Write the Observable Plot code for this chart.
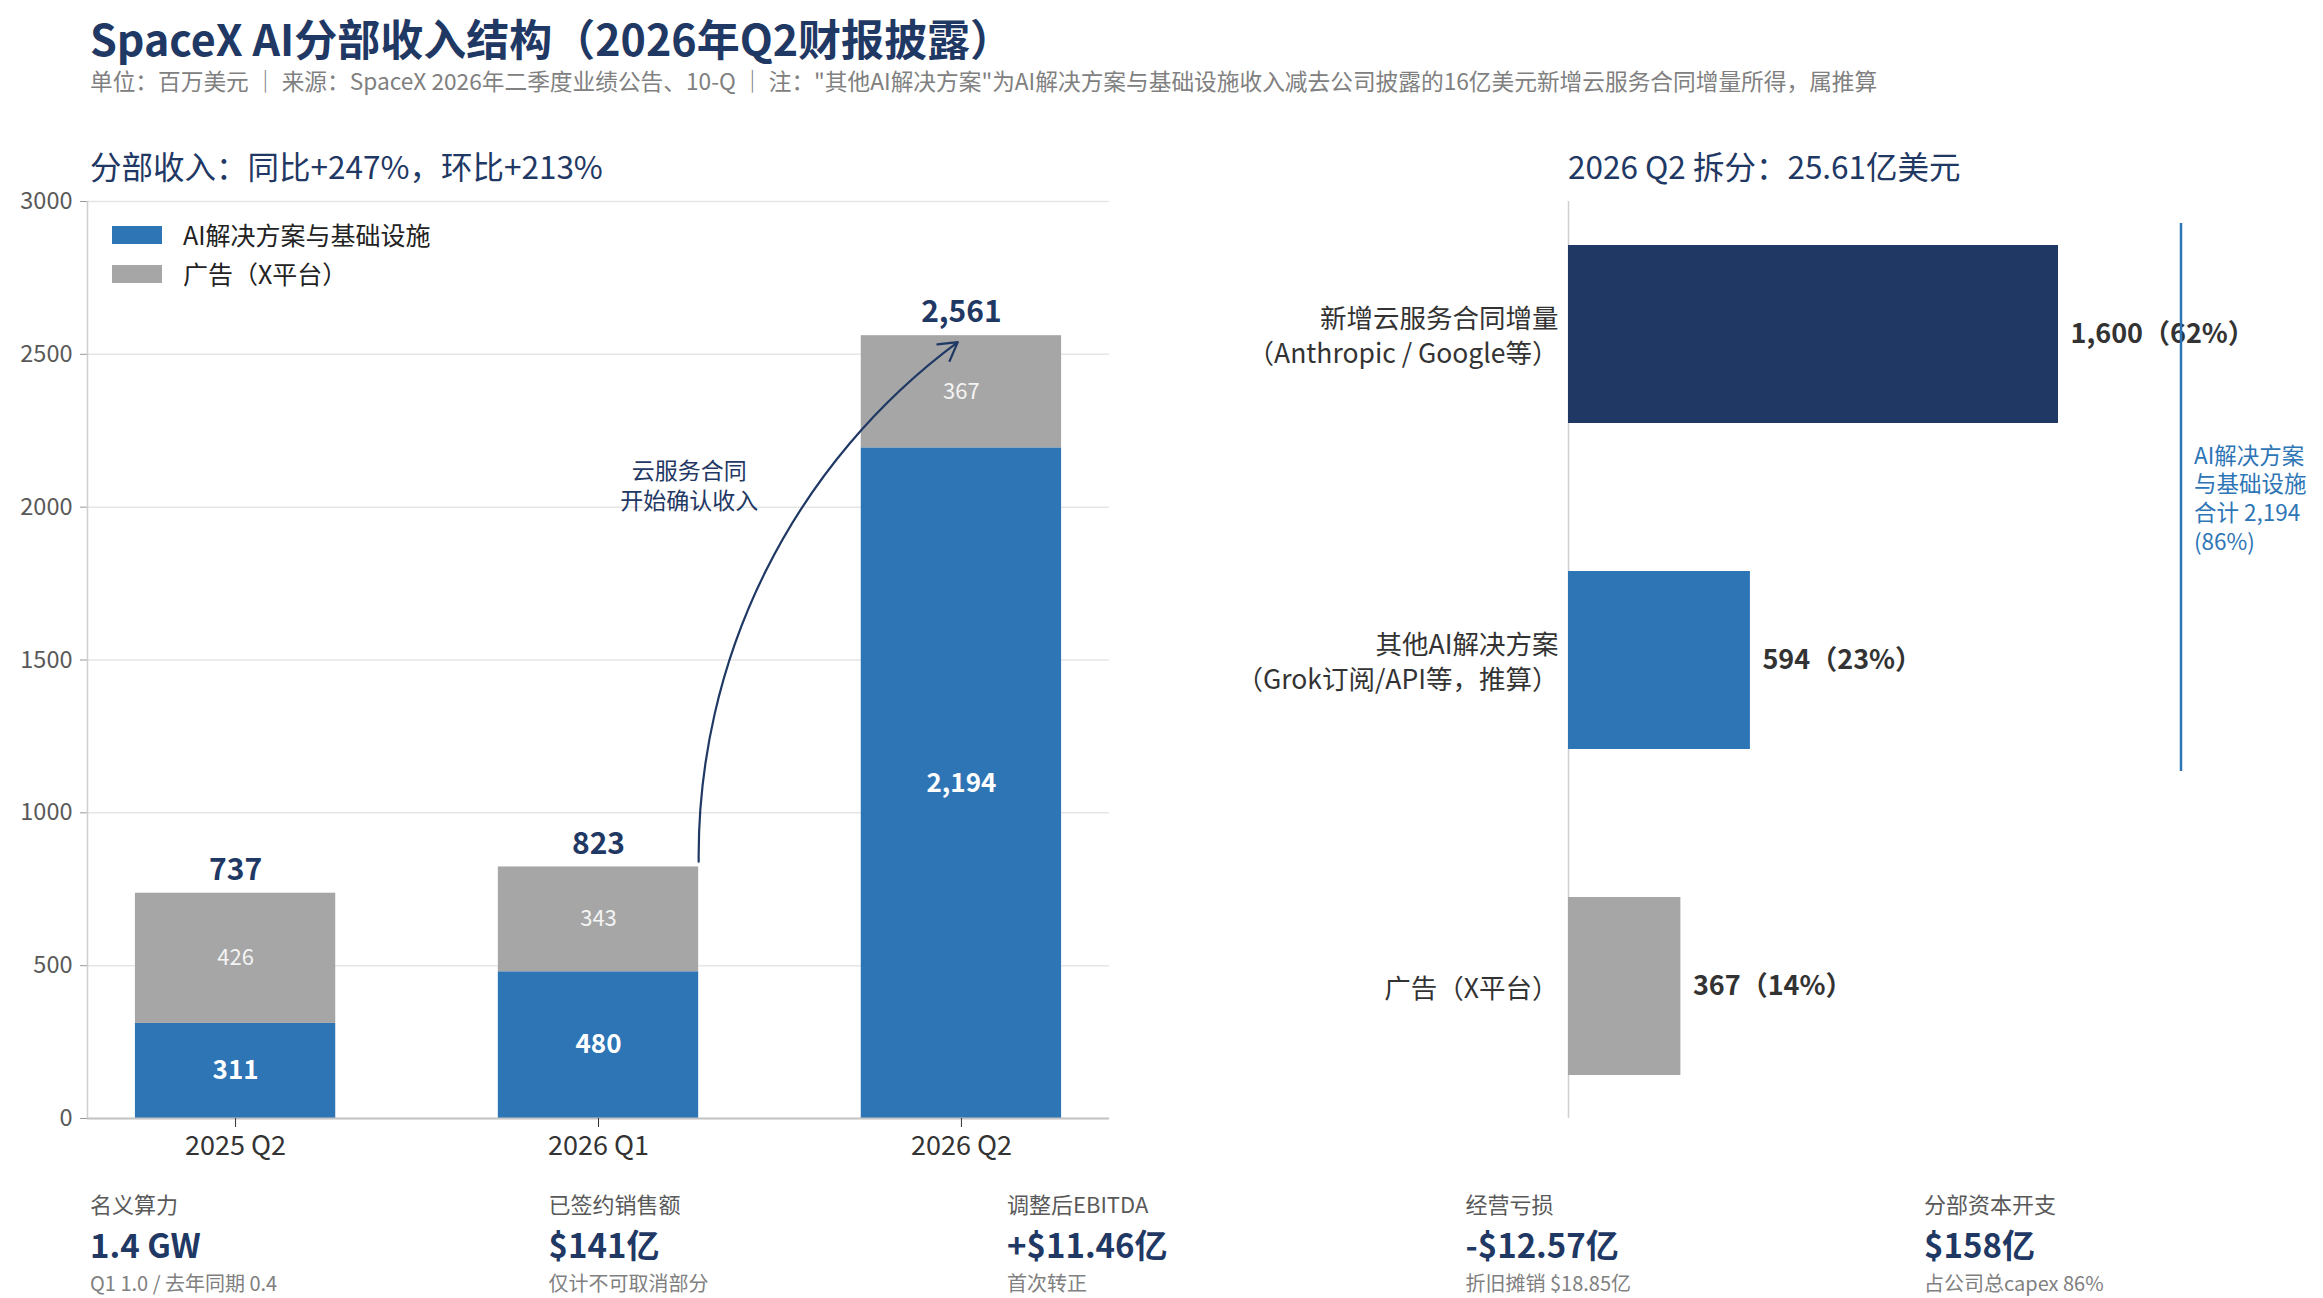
<!DOCTYPE html>
<html><head><meta charset="utf-8">
<script src="https://cdn.jsdelivr.net/npm/d3@7"></script>
<script src="https://cdn.jsdelivr.net/npm/@observablehq/plot@0.6"></script>
<style>
body{margin:0;background:#fff;font-family:"Noto Sans CJK SC","Noto Sans",sans-serif;}
#page{position:relative;width:2323px;height:1298px;overflow:hidden;background:#fff;}
.abs{position:absolute;white-space:nowrap;}
</style></head><body><div id="page"></div>
<script>
// ---------- data ----------
const quarters = ["2025 Q2", "2026 Q1", "2026 Q2"];
const aiRevenue = [311, 480, 2194];
const adRevenue = [426, 343, 367];
const yTicks = [0, 500, 1000, 1500, 2000, 2500, 3000];
const seriesNames = ["AI解决方案与基础设施", "广告（X平台）"];

const splitNames = ["新增云服务合同增量\n（Anthropic / Google等）", "其他AI解决方案\n（Grok订阅/API等，推算）", "广告（X平台）"];
const splitValues = [1600, 594, 367];
const splitShares = [62, 23, 14];
const aiTotalLabel = "AI解决方案\n与基础设施\n合计 2,194\n(86%)";

const arrowNote = "云服务合同\n开始确认收入";
const arrowFrom = 840, arrowTo = 2540;   // y values (百万美元) of the annotation arrow
const noteAt = {x: 1.25, y: 2075};

const kpiLabels = ["名义算力", "已签约销售额", "调整后EBITDA", "经营亏损", "分部资本开支"];
const kpiValues = ["1.4 GW", "$141亿", "+$11.46亿", "-$12.57亿", "$158亿"];
const kpiNotes = ["Q1 1.0 / 去年同期 0.4", "仅计不可取消部分", "首次转正", "折旧摊销 $18.85亿", "占公司总capex 86%"];

const titleText = "SpaceX AI分部收入结构（2026年Q2财报披露）";
const subtitleText = "单位：百万美元 ｜ 来源：SpaceX 2026年二季度业绩公告、10-Q ｜ 注：\"其他AI解决方案\"为AI解决方案与基础设施收入减去公司披露的16亿美元新增云服务合同增量所得，属推算";
const leftHead = "分部收入：同比+247%，环比+213%";
const rightHead = "2026 Q2 拆分：25.61亿美元";

// ---------- style ----------
const F = '"Noto Sans CJK SC","Noto Sans",sans-serif';
const NAVY = "#1f3864", BLUE = "#2e75b6", GREY = "#a6a6a6";
const splitColors = [NAVY, BLUE, GREY];
const fmt = d3.format(",");

const page = document.getElementById("page");
function addDiv(text, css) {
  const d = document.createElement("div");
  d.className = "abs";
  d.textContent = text;
  Object.assign(d.style, css);
  page.appendChild(d);
  return d;
}

addDiv(titleText, {left: "90px", top: "12px", fontSize: "43px", lineHeight: "50px", fontWeight: "700", color: NAVY});
addDiv(subtitleText, {left: "90px", top: "67px", fontSize: "22.7px", lineHeight: "28px", color: "#808080"});
addDiv(leftHead, {left: "90px", top: "145px", fontSize: "31.5px", lineHeight: "40px", color: NAVY});
addDiv(rightHead, {left: "1568px", top: "145px", fontSize: "31.5px", lineHeight: "40px", color: NAVY});

// ---------- left chart: stacked columns ----------
const half = 0.276, xPad = 0.408;
const stackRows = [];
quarters.forEach((q, i) => {
  stackRows.push({i, s: 0, y1: 0, y2: aiRevenue[i], v: aiRevenue[i]});
  stackRows.push({i, s: 1, y1: aiRevenue[i], y2: aiRevenue[i] + adRevenue[i], v: adRevenue[i]});
});
const totals = quarters.map((q, i) => ({i, t: aiRevenue[i] + adRevenue[i]}));
const idx = quarters.map((q, i) => i);

const left = Plot.plot({
  width: 1130, height: 983,
  marginLeft: 87, marginRight: 21, marginTop: 16, marginBottom: 50,
  style: {fontFamily: F, fontSize: "22px", color: "#595959", background: "transparent", overflow: "visible"},
  x: {domain: [-xPad, quarters.length - 1 + xPad], axis: null},
  y: {domain: [0, 3000], axis: null},
  marks: [
    Plot.gridY(yTicks, {stroke: "#e6e6e6", strokeOpacity: 1, strokeWidth: 1.5}),
    Plot.axisY(yTicks, {tickSize: 7, tickPadding: 8, fontSize: 23.5, stroke: "#9a9a9a", fill: "#595959", tickFormat: d => String(d), label: null}),
    Plot.ruleX([-xPad], {y1: 0, y2: 3000, stroke: "#cfcfcf", strokeWidth: 1.5}),
    Plot.rect(stackRows, {x1: d => d.i - half, x2: d => d.i + half, y1: "y1", y2: "y2", fill: d => d.s === 0 ? BLUE : GREY}),
    Plot.ruleY([0], {stroke: "#c4c4c4", strokeWidth: 2}),
    Plot.axisX(idx, {tickSize: 9, tickPadding: 8, fontSize: 27, stroke: "#333", fill: "#333", tickFormat: i => quarters[i], label: null}),
    Plot.text(stackRows.filter(d => d.s === 0), {x: "i", y: d => (d.y1 + d.y2) / 2, text: d => fmt(d.v), fill: "white", fontSize: 26, fontWeight: "700"}),
    Plot.text(stackRows.filter(d => d.s === 1), {x: "i", y: d => (d.y1 + d.y2) / 2, text: d => fmt(d.v), fill: "#f4f4f4", fontSize: 22}),
    Plot.text(totals, {x: "i", y: "t", text: d => fmt(d.t), dy: -23, fill: NAVY, fontSize: 30, fontWeight: "700"}),
    Plot.arrow([{x1: 1 + half, y1: arrowFrom, x2: 1.99, y2: arrowTo}], {x1: "x1", y1: "y1", x2: "x2", y2: "y2", bend: 27, stroke: NAVY, strokeWidth: 2.2, headLength: 14}),
    Plot.text([noteAt], {x: "x", y: "y", text: () => arrowNote, fill: NAVY, fontSize: 23, lineHeight: 1.3})
  ]
});
const lw = document.createElement("div");
Object.assign(lw.style, {position: "absolute", left: "0px", top: "185px", width: "1130px"});
lw.appendChild(left);
page.appendChild(lw);

// legend (inside the left plot area)
seriesNames.forEach((n, k) => {
  const sw = document.createElement("div");
  Object.assign(sw.style, {position: "absolute", left: "112px", top: (226 + 39 * k) + "px", width: "50px", height: "18px", background: k === 0 ? BLUE : GREY});
  page.appendChild(sw);
  addDiv(n, {left: "183px", top: (219 + 39 * k) + "px", fontSize: "25px", lineHeight: "31px", color: "#222"});
});

// ---------- right chart: horizontal split ----------
const pIn = 0.454, pOut = 0.133;
const rH = 983, rTop = 16, rBot = 50;
const step = (rH - rTop - rBot) / (splitNames.length - pIn + 2 * pOut);
const splitRows = splitNames.map((n, k) => ({n, v: splitValues[k], p: splitShares[k], c: splitColors[k]}));

const right = Plot.plot({
  width: 1143, height: rH,
  marginLeft: 388, marginRight: 20, marginTop: rTop, marginBottom: rBot,
  style: {fontFamily: F, fontSize: "22px", color: "#333", background: "transparent", overflow: "visible"},
  x: {domain: [0, 2400], axis: null},
  y: {domain: splitNames, axis: null, paddingInner: pIn, paddingOuter: pOut},
  color: {type: "identity"},
  marks: [
    Plot.ruleX([0], {stroke: "#cfcfcf", strokeWidth: 1.5}),
    Plot.barX(splitRows, {x: "v", y: "n", fill: "c"}),
    Plot.text(splitRows, {x: "v", y: "n", text: d => `${fmt(d.v)}（${d.p}%）`, dx: 12, textAnchor: "start", fontSize: 27, fontWeight: "700", fill: "#333"}),
    Plot.text(splitRows, {y: "n", frameAnchor: "left", text: "n", dx: -10, textAnchor: "end", fontSize: 26.5, lineHeight: 1.3, fill: "#333"}),
    Plot.ruleX([2000], {y1: [splitNames[0]], y2: [splitNames[1]], insetTop: -22, insetBottom: -22, stroke: BLUE, strokeWidth: 2.5}),
    Plot.text([aiTotalLabel], {x: 2000, y: () => splitNames[0], dy: step / 2, dx: 13, text: d => d, textAnchor: "start", fontSize: 22.5, lineHeight: 1.27, fill: BLUE})
  ]
});
const rw = document.createElement("div");
Object.assign(rw.style, {position: "absolute", left: "1180px", top: "185px", width: "1143px"});
rw.appendChild(right);
page.appendChild(rw);

// ---------- KPI row ----------
kpiLabels.forEach((l, k) => {
  const x = 90 + k * 458.5;
  addDiv(l, {left: x + "px", top: "1189px", fontSize: "22px", lineHeight: "28px", color: "#595959"});
  addDiv(kpiValues[k], {left: x + "px", top: "1224px", fontSize: "33px", lineHeight: "40px", fontWeight: "700", color: NAVY});
  addDiv(kpiNotes[k], {left: x + "px", top: "1271px", fontSize: "20px", lineHeight: "24px", color: "#808080"});
});
</script>
</body></html>
